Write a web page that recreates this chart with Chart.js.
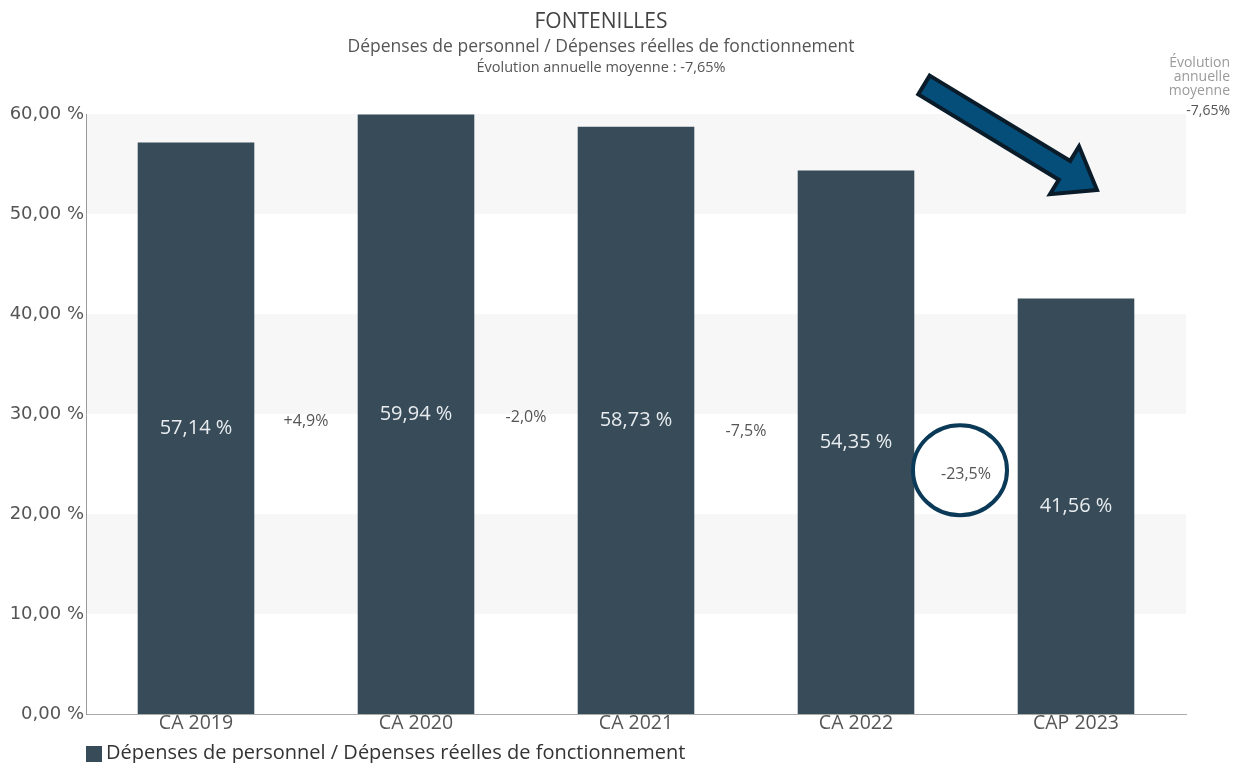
<!DOCTYPE html>
<html lang="fr">
<head>
<meta charset="utf-8">
<title>FONTENILLES</title>
<script src="https://cdn.jsdelivr.net/npm/chart.js@4"></script>
<style>
  html, body { margin: 0; padding: 0; background: #fff; }
  #wrap { width: 1235px; height: 763px; }
</style>
</head>
<body>
<div id="wrap"><canvas id="chart" width="1235" height="763"></canvas></div>
<script>
const categories = ['CA 2019', 'CA 2020', 'CA 2021', 'CA 2022', 'CAP 2023'];
const ratioValues = [57.14, 59.94, 58.73, 54.35, 41.56];
const avgEvolution = '-7,65%';
const seriesLabel = 'Dépenses de personnel / Dépenses réelles de fonctionnement';

const BAR_COLOR = '#374b59';
const FONT = '"Open Sans", sans-serif';

const frNum = (v, d) => v.toFixed(d).replace('.', ',');

// year-on-year change between neighbouring bars
const evolutions = ratioValues.slice(1).map((v, i) => {
    const pct = (v / ratioValues[i] - 1) * 100;
    return (pct > 0 ? '+' : '') + frNum(pct, 1) + '%';
});

const decorations = {
    id: 'decorations',
    beforeDatasetsDraw(chart) {
        const { ctx, chartArea: a, scales: { y } } = chart;
        ctx.save();
        ctx.fillStyle = '#f7f7f7';
        [50, 30, 10].forEach(v => {
            const top = y.getPixelForValue(v + 10);
            const bot = y.getPixelForValue(v);
            ctx.fillRect(a.left + 1, top, a.right - a.left - 1, bot - top);
        });
        ctx.restore();
    },
    afterDatasetsDraw(chart) {
        const { ctx } = chart;
        const bars = chart.getDatasetMeta(0).data;
        ctx.save();
        ctx.textAlign = 'center';
        ctx.textBaseline = 'middle';

        // value inside each bar
        ctx.font = '20px ' + FONT;
        ctx.fillStyle = '#e8ecef';
        const mids = bars.map(b => (b.y + b.base) / 2);
        bars.forEach((b, i) => {
            ctx.fillText(frNum(ratioValues[i], 2) + ' %', b.x, mids[i]);
        });

        // evolution between bars
        ctx.font = '16px ' + FONT;
        ctx.fillStyle = '#555';
        evolutions.forEach((t, i) => {
            const x = (bars[i].x + bars[i + 1].x) / 2;
            const yy = (mids[i] + mids[i + 1]) / 2;
            ctx.fillText(t, x, yy);
        });

        // ring around the last change
        const last = evolutions.length - 1;
        const cx = (bars[last].x + bars[last + 1].x) / 2 - 6;
        const cy = (mids[last] + mids[last + 1]) / 2 - 4;
        ctx.beginPath();
        ctx.ellipse(cx, cy, 47, 45, 0, 0, Math.PI * 2);
        ctx.lineWidth = 4;
        ctx.strokeStyle = '#0b3a58';
        ctx.stroke();
        ctx.restore();
    },
    afterDraw(chart) {
        const { ctx } = chart;
        ctx.save();
        ctx.textAlign = 'center';
        ctx.textBaseline = 'middle';
        const cx = 601;
        ctx.fillStyle = '#444';
        ctx.font = '21px ' + FONT;
        ctx.fillText('FONTENILLES', cx, 22);
        ctx.fillStyle = '#555';
        ctx.font = '17.5px ' + FONT;
        ctx.fillText(seriesLabel, cx, 47);
        ctx.font = '14.5px ' + FONT;
        ctx.fillText('Évolution annuelle moyenne : ' + avgEvolution, cx, 68);

        // side note, top right
        ctx.textAlign = 'right';
        ctx.font = '14px ' + FONT;
        ctx.fillStyle = '#9a9a9a';
        ctx.fillText('Évolution', 1230, 63);
        ctx.fillText('annuelle', 1230, 77);
        ctx.fillText('moyenne', 1230, 91);
        ctx.fillStyle = '#555';
        ctx.fillText(avgEvolution, 1230, 111);

        // legend
        ctx.textAlign = 'left';
        ctx.fillStyle = BAR_COLOR;
        ctx.fillRect(86, 746, 16, 16);
        ctx.fillStyle = '#333';
        ctx.font = '20px ' + FONT;
        ctx.fillText(seriesLabel, 106, 753);

        // trend arrow
        const x0 = 924, y0 = 85, x1 = 1097, y1 = 190;
        const ang = Math.atan2(y1 - y0, x1 - x0);
        const len = Math.hypot(x1 - x0, y1 - y0);
        const shaft = 11, head = 28, headLen = 38;
        ctx.translate(x0, y0);
        ctx.rotate(ang);
        ctx.beginPath();
        ctx.moveTo(0, -shaft);
        ctx.lineTo(len - headLen, -shaft);
        ctx.lineTo(len - headLen, -head);
        ctx.lineTo(len, 0);
        ctx.lineTo(len - headLen, head);
        ctx.lineTo(len - headLen, shaft);
        ctx.lineTo(0, shaft);
        ctx.closePath();
        ctx.fillStyle = '#044e79';
        ctx.fill();
        ctx.lineWidth = 4;
        ctx.lineJoin = 'miter';
        ctx.strokeStyle = '#0a1c2a';
        ctx.stroke();
        ctx.restore();
    }
};

new Chart(document.getElementById('chart'), {
    type: 'bar',
    data: {
        labels: categories,
        datasets: [{
            label: seriesLabel,
            data: ratioValues,
            backgroundColor: BAR_COLOR,
            categoryPercentage: 1,
            barPercentage: 0.53
        }]
    },
    options: {
        responsive: false,
        devicePixelRatio: 1,
        animation: false,
        layout: { padding: { top: 114, right: 49, left: 0, bottom: 0 } },
        plugins: {
            legend: { display: false },
            tooltip: { enabled: false }
        },
        scales: {
            x: {
                grid: { display: false, drawTicks: false },
                border: { display: true, color: '#aaa' },
                ticks: { color: '#555', font: { family: FONT, size: 19.5 }, padding: -2 },
                afterFit: s => { s.height = 49; }
            },
            y: {
                min: 0,
                max: 60,
                grid: { display: false, drawTicks: false },
                border: { display: true, color: '#999' },
                ticks: {
                    stepSize: 10,
                    color: '#555',
                    font: { family: '"DejaVu Sans", sans-serif', size: 18 },
                    padding: 2,
                    callback: v => frNum(v, 2) + ' %'
                },
                afterFit: s => { s.width = 86; }
            }
        }
    },
    plugins: [decorations]
});
</script>
</body>
</html>
